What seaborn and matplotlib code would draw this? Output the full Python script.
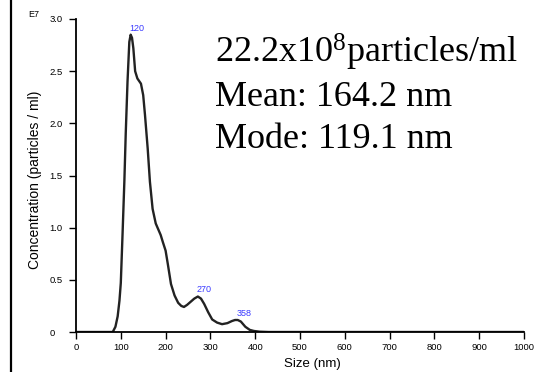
import numpy as np
import pandas as pd
import matplotlib
matplotlib.use("Agg")
import matplotlib.pyplot as plt
import seaborn as sns
from matplotlib.lines import Line2D

# Size distribution (concentration in units of 1E7)
size_nm = [0, 60, 75, 82, 88, 93, 97, 100, 104, 108, 111, 115, 119, 122, 125,
           128, 132, 137, 145, 150, 154, 160, 165, 171, 178, 184, 189, 194,
           200, 205, 212, 220, 228, 235, 241, 248, 256, 264, 272, 279, 286,
           295, 304, 315, 326, 338, 348, 355, 361, 368, 378, 388, 397, 410,
           430, 1000]
conc_e7 = [0, 0, 0, 0.0, 0.05, 0.15, 0.3, 0.47, 0.95, 1.45, 1.9, 2.4, 2.78,
           2.85, 2.82, 2.72, 2.5, 2.43, 2.38, 2.27, 2.08, 1.76, 1.44, 1.18,
           1.04, 0.98, 0.93, 0.86, 0.78, 0.65, 0.46, 0.35, 0.28, 0.25, 0.24,
           0.26, 0.29, 0.32, 0.34, 0.32, 0.27, 0.19, 0.12, 0.09, 0.075, 0.085,
           0.105, 0.115, 0.115, 0.1, 0.05, 0.02, 0.01, 0.003, 0, 0]

peak_sizes = [120, 270, 358]
peak_values = [2.85, 0.34, 0.115]

x_ticks = [0, 100, 200, 300, 400, 500, 600, 700, 800, 900, 1000]
y_ticks = [0, 0.5, 1.0, 1.5, 2.0, 2.5, 3.0]
y_ticklabels = ["0", "0.5", "1.0", "1.5", "2.0", "2.5", "3.0"]

stats_lines = ["22.2x10$^{8}$particles/ml", "Mean: 164.2 nm", "Mode: 119.1 nm"]

df = pd.DataFrame({"size": size_nm, "conc": conc_e7})

sns.set_style("ticks")
plt.rcParams["font.family"] = ["Liberation Sans", "DejaVu Sans"]
plt.rcParams["mathtext.fontset"] = "custom"
plt.rcParams["mathtext.rm"] = "Liberation Serif"
plt.rcParams["mathtext.it"] = "Liberation Serif"
for key in ["text.color", "axes.labelcolor", "xtick.color", "ytick.color"]:
    plt.rcParams[key] = "black"

W, H = 556, 372
fig = plt.figure(figsize=(W / 100, H / 100), dpi=100)
ax = fig.add_axes([76 / W, 1 - 332 / H, (524 - 76) / W, (332 - 19) / H])

sns.lineplot(data=df, x="size", y="conc", ax=ax, color="#222222", lw=1.7)

ax.set_xlim(0, 1000)
ax.set_ylim(0, 3.0)
ax.set_xticks(x_ticks)
ax.set_yticks(y_ticks)
ax.set_yticklabels(y_ticklabels)
sns.despine(ax=ax)
for side in ["left", "bottom"]:
    ax.spines[side].set_linewidth(1.3)
    ax.spines[side].set_color("black")
ax.tick_params(axis="both", length=5, width=1.0, color="black", labelsize=6.8)
ax.tick_params(axis="x", pad=3)
ax.tick_params(axis="y", pad=14)
for lab in ax.get_yticklabels():
    lab.set_horizontalalignment("left")

ax.set_xlabel("Size (nm)", fontsize=9.5)
ax.xaxis.set_label_coords((312 - 76) / (524 - 76), -(370 - 332) / (332 - 19))
ax.xaxis.label.set_va("bottom")
ax.set_ylabel("Concentration (particles / ml)", fontsize=10)
ax.yaxis.set_label_coords(-(76 - 35) / (524 - 76), (332 - 180) / (332 - 19))
ax.yaxis.label.set_va("center")

for s, v in zip(peak_sizes, peak_values):
    ax.text(s, v + 0.02, str(s), color="#3a3aff", fontsize=6.5,
            ha="left", va="bottom")

fig.text(28 / W, 1 - 17 / H, "E7", fontsize=6.5, ha="left", va="baseline")

for i, line in enumerate(stats_lines):
    fig.text(215 / W, 1 - (63 + 42.5 * i) / H, line, fontsize=26,
             family="Liberation Serif", ha="left", va="baseline")

fig.add_artist(Line2D([11 / W, 11 / W], [0, 1], color="black", lw=1.6,
                      transform=fig.transFigure))

fig.savefig("out.png", dpi=100)
